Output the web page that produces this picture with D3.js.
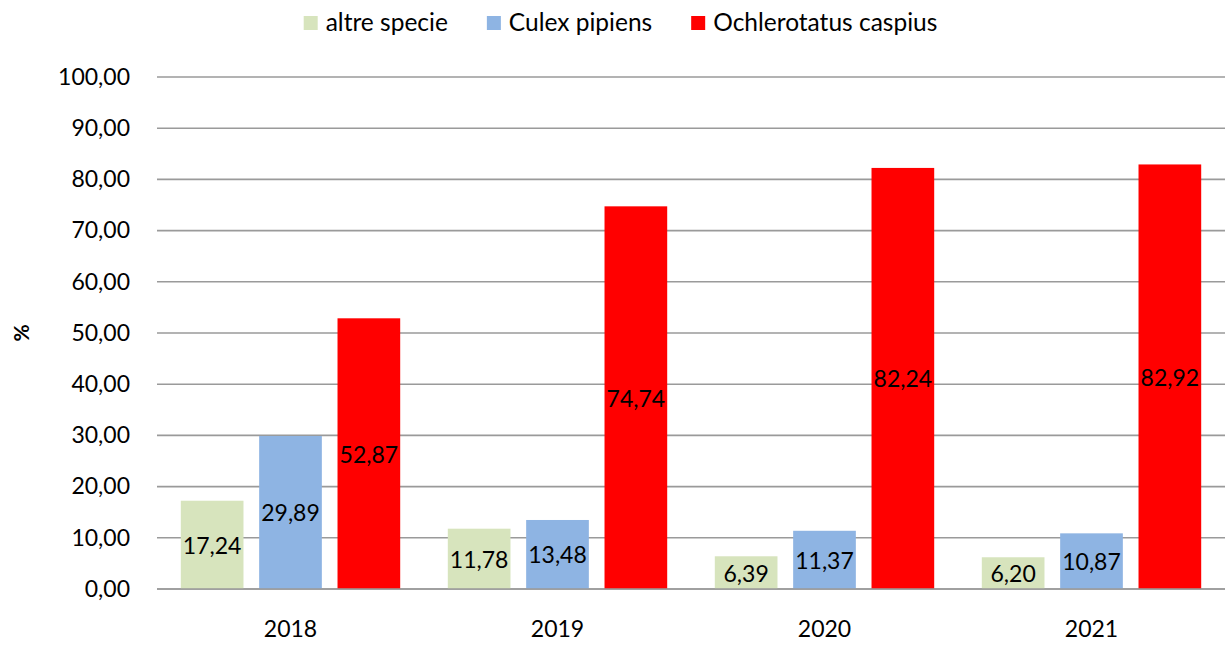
<!DOCTYPE html>
<html>
<head>
<meta charset="utf-8">
<script src="https://cdn.jsdelivr.net/npm/d3@7"></script>
<style>
  html, body { margin: 0; padding: 0; background: #fff; }
  svg { display: block; }
  text { font-family: Lato, "Open Sans", sans-serif; fill: #000; }
</style>
</head>
<body>
<svg id="chart" width="1225" height="646"></svg>
<script>
const years = ["2018", "2019", "2020", "2021"];
const seriesNames = ["altre specie", "Culex pipiens", "Ochlerotatus caspius"];
const altreSpecie = [17.24, 11.78, 6.39, 6.20];
const culexPipiens = [29.89, 13.48, 11.37, 10.87];
const ochlerotatusCaspius = [52.87, 74.74, 82.24, 82.92];
const yTicks = [0, 10, 20, 30, 40, 50, 60, 70, 80, 90, 100];
const colors = ["#d7e4bd", "#8eb4e3", "#ff0000"];

(function () {
const seriesValues = [altreSpecie, culexPipiens, ochlerotatusCaspius];
const rows = years.map((yr, i) => ({
  year: yr,
  values: seriesNames.map((s, j) => ({ series: s, value: seriesValues[j][i], color: colors[j] }))
}));

const svg = d3.select("#chart");
const pLeft = 157, pRight = 1225, pTop = 77, pBottom = 589;
const fmt = v => v.toFixed(2).replace(".", ",");

const y = d3.scaleLinear().domain([0, 100]).range([pBottom, pTop]);
const x0 = d3.scaleBand().domain(years).range([pLeft, pRight]).padding(0);
const outer = 23.8;
const x1 = d3.scaleBand().domain(seriesNames)
  .range([outer, x0.bandwidth() - outer]).paddingInner(0.2).paddingOuter(0);

// gridlines
svg.append("g").selectAll("line").data(yTicks).join("line")
  .attr("x1", pLeft).attr("x2", pRight)
  .attr("y1", d => y(d)).attr("y2", d => y(d))
  .attr("stroke", "#9a9a9a").attr("stroke-width", 1.6);

// y axis labels
const yAxis = d3.axisLeft(y).tickValues(yTicks).tickFormat(fmt).tickSize(0).tickPadding(27);
const gy = svg.append("g").attr("transform", `translate(${pLeft},0)`).call(yAxis);
gy.select(".domain").remove();
gy.selectAll("text").attr("font-family", "Lato").attr("font-size", 23).attr("fill", "#000");

// bars
const groups = svg.append("g").selectAll("g").data(rows).join("g")
  .attr("transform", d => `translate(${x0(d.year)},0)`);
groups.selectAll("rect").data(d => d.values).join("rect")
  .attr("x", d => x1(d.series))
  .attr("width", x1.bandwidth())
  .attr("y", d => y(d.value))
  .attr("height", d => y(0) - y(d.value))
  .attr("fill", d => d.color);
groups.selectAll("text").data(d => d.values).join("text")
  .attr("x", d => x1(d.series) + x1.bandwidth() / 2)
  .attr("y", d => (y(d.value) + y(0)) / 2)
  .attr("text-anchor", "middle")
  .attr("dominant-baseline", "central")
  .attr("font-size", 23)
  .text(d => fmt(d.value));

// baseline
svg.append("line").attr("x1", pLeft).attr("x2", pRight)
  .attr("y1", y(0)).attr("y2", y(0))
  .attr("stroke", "#9a9a9a").attr("stroke-width", 1.6);

// x axis labels
const xAxis = d3.axisBottom(x0).tickSize(0).tickPadding(32);
const gx = svg.append("g").attr("transform", `translate(0,${pBottom})`).call(xAxis);
gx.select(".domain").remove();
gx.selectAll("text").attr("font-family", "Lato").attr("font-size", 23).attr("fill", "#000");

// y axis title
svg.append("text")
  .attr("transform", "translate(29,333) rotate(-90)")
  .attr("text-anchor", "middle")
  .attr("font-size", 21).attr("font-weight", "bold")
  .text("%");

// legend
const legend = svg.append("g");
const items = legend.selectAll("g").data(seriesNames).join("g");
items.append("rect").attr("width", 14).attr("height", 14).attr("y", 16)
  .attr("fill", (d, i) => colors[i]);
items.append("text").attr("x", 22).attr("y", 31).attr("font-size", 24.5).text(d => d);
const widths = [];
items.each(function () {
  widths.push(22 + d3.select(this).select("text").node().getComputedTextLength());
});
const gap = 39;
const total = d3.sum(widths) + gap * (widths.length - 1);
let start = 620.5 - total / 2;
items.attr("transform", (d, i) => {
  const tx = start;
  start += widths[i] + gap;
  return `translate(${tx},0)`;
});
})();
</script>
</body>
</html>
